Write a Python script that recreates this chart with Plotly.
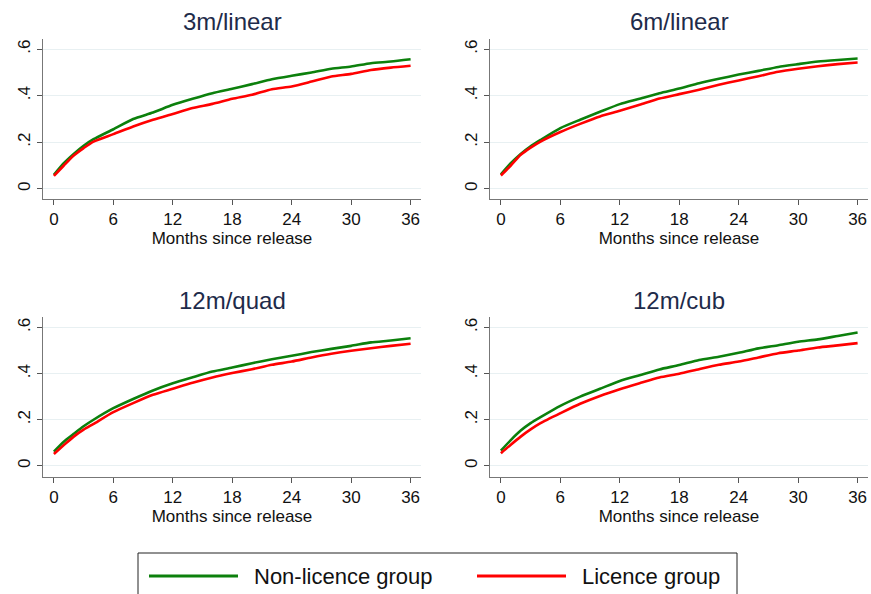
import plotly.graph_objects as go

# Months since release at which the cumulative curves are sampled
months = [0, 1, 2, 3, 4, 6, 8, 10, 12, 14, 16, 18, 20, 22, 24, 26, 28, 30, 32, 34, 36]

panel_titles = ["3m/linear", "6m/linear", "12m/quad", "12m/cub"]

# Non-licence group (green) and licence group (red), one pair per panel
nonlic_3m_linear = [0.060, 0.110, 0.150, 0.185, 0.213, 0.256, 0.300, 0.328, 0.361, 0.387, 0.411,
                    0.430, 0.450, 0.471, 0.486, 0.500, 0.516, 0.526, 0.540, 0.547, 0.557]
lic_3m_linear = [0.055, 0.100, 0.143, 0.175, 0.203, 0.235, 0.268, 0.297, 0.322, 0.347, 0.365,
                 0.387, 0.404, 0.428, 0.440, 0.461, 0.483, 0.494, 0.511, 0.521, 0.529]

nonlic_6m_linear = [0.062, 0.110, 0.150, 0.183, 0.210, 0.261, 0.297, 0.331, 0.364, 0.387, 0.411,
                    0.431, 0.454, 0.473, 0.491, 0.507, 0.524, 0.536, 0.547, 0.554, 0.560]
lic_6m_linear = [0.057, 0.100, 0.146, 0.177, 0.203, 0.244, 0.279, 0.311, 0.335, 0.361, 0.388,
                 0.407, 0.426, 0.447, 0.466, 0.484, 0.503, 0.516, 0.527, 0.536, 0.543]

nonlic_12m_quad = [0.062, 0.105, 0.139, 0.172, 0.200, 0.250, 0.290, 0.327, 0.358, 0.384, 0.409,
                   0.426, 0.445, 0.462, 0.477, 0.493, 0.507, 0.520, 0.535, 0.543, 0.553]
lic_12m_quad = [0.052, 0.090, 0.127, 0.157, 0.182, 0.233, 0.272, 0.308, 0.334, 0.360, 0.383,
                0.402, 0.419, 0.438, 0.452, 0.470, 0.486, 0.499, 0.510, 0.520, 0.529]

nonlic_12m_cub = [0.066, 0.112, 0.153, 0.185, 0.211, 0.260, 0.300, 0.334, 0.368, 0.393, 0.418,
                  0.437, 0.459, 0.473, 0.490, 0.509, 0.523, 0.538, 0.548, 0.563, 0.578]
lic_12m_cub = [0.055, 0.092, 0.127, 0.158, 0.185, 0.228, 0.269, 0.303, 0.332, 0.358, 0.383,
               0.399, 0.419, 0.438, 0.452, 0.470, 0.488, 0.500, 0.513, 0.522, 0.532]

x_tick_vals = [0, 6, 12, 18, 24, 30, 36]
y_tick_vals = [0, 0.2, 0.4, 0.6]
y_tick_text = ["0", ".2", ".4", ".6"]

series_names = ["Non-licence group", "Licence group"]
series_colors = ["#0c800c", "#ff0000"]

panels = [
    (nonlic_3m_linear, lic_3m_linear),
    (nonlic_6m_linear, lic_6m_linear),
    (nonlic_12m_quad, lic_12m_quad),
    (nonlic_12m_cub, lic_12m_cub),
]

W, H = 871, 594
FONT = "Liberation Sans, Arial, sans-serif"

# Plot-area boxes in pixels: (left, right, top, bottom)
boxes = [
    (43, 421, 39, 199),
    (490, 868, 39, 199),
    (43, 421, 317, 477),
    (490, 868, 317, 477),
]


def px_x(p):
    return p / W


def px_y(p):
    return 1 - p / H


fig = go.Figure()
layout = dict(
    width=W, height=H,
    margin=dict(l=0, r=0, t=0, b=0),
    paper_bgcolor="white", plot_bgcolor="white",
    showlegend=False,
    font=dict(family=FONT, size=17, color="#111111"),
)

annotations = []
for i, ((green, red), title, (l, r, t, b)) in enumerate(zip(panels, panel_titles, boxes)):
    n = "" if i == 0 else str(i + 1)
    for vals, name, col in zip((green, red), series_names, series_colors):
        fig.add_trace(go.Scatter(
            x=months, y=vals, mode="lines", name=name,
            line=dict(color=col, width=2.6, shape="spline", smoothing=0.6),
            xaxis="x" + n, yaxis="y" + n,
        ))
    yr = [-0.044, 0.644] if i < 2 else [-0.048, 0.645]
    layout["xaxis" + n] = dict(
        domain=[px_x(l), px_x(r)], anchor="y" + n, range=[-1.1, 37.05],
        tickvals=x_tick_vals, ticks="outside", ticklen=5, tickcolor="#555555",
        showline=True, linecolor="#777777", linewidth=1, showgrid=False, zeroline=False,
        tickfont=dict(size=17, color="#111111"),
        title=dict(text="Months since release", standoff=0,
                   font=dict(size=17, color="#111111")),
    )
    layout["yaxis" + n] = dict(
        domain=[px_y(b), px_y(t)], anchor="x" + n, range=yr,
        tickvals=y_tick_vals, ticktext=y_tick_text, tickangle=-90,
        ticks="outside", ticklen=5, tickcolor="#555555",
        showline=True, linecolor="#777777", linewidth=1,
        showgrid=True, gridcolor="#e8f0f2", gridwidth=1, zeroline=False,
        tickfont=dict(size=17, color="#111111"),
    )
    annotations.append(dict(
        text=title, x=px_x((l + r) / 2), y=px_y(t - 17), xref="paper", yref="paper",
        xanchor="center", yanchor="middle", showarrow=False,
        font=dict(size=24, color="#1e2b4a", family=FONT),
    ))

# Legend box with long sample lines
shapes = [dict(type="rect", xref="paper", yref="paper",
               x0=px_x(138), x1=px_x(737), y0=px_y(610), y1=px_y(553),
               line=dict(color="#222222", width=1), fillcolor="white", layer="below")]
legend_items = [(149, 238, 252), (477, 566, 580)]
for (lx0, lx1, tx), name, col in zip(legend_items, series_names, series_colors):
    shapes.append(dict(type="line", xref="paper", yref="paper",
                       x0=px_x(lx0), x1=px_x(lx1), y0=px_y(576), y1=px_y(576),
                       line=dict(color=col, width=3)))
    annotations.append(dict(
        text=name, x=px_x(tx), y=px_y(576), xref="paper", yref="paper",
        xanchor="left", yanchor="middle", showarrow=False,
        font=dict(size=22, color="#111111", family=FONT),
    ))

layout["annotations"] = annotations
layout["shapes"] = shapes
fig.update_layout(**layout)
fig.write_html("out.html")
